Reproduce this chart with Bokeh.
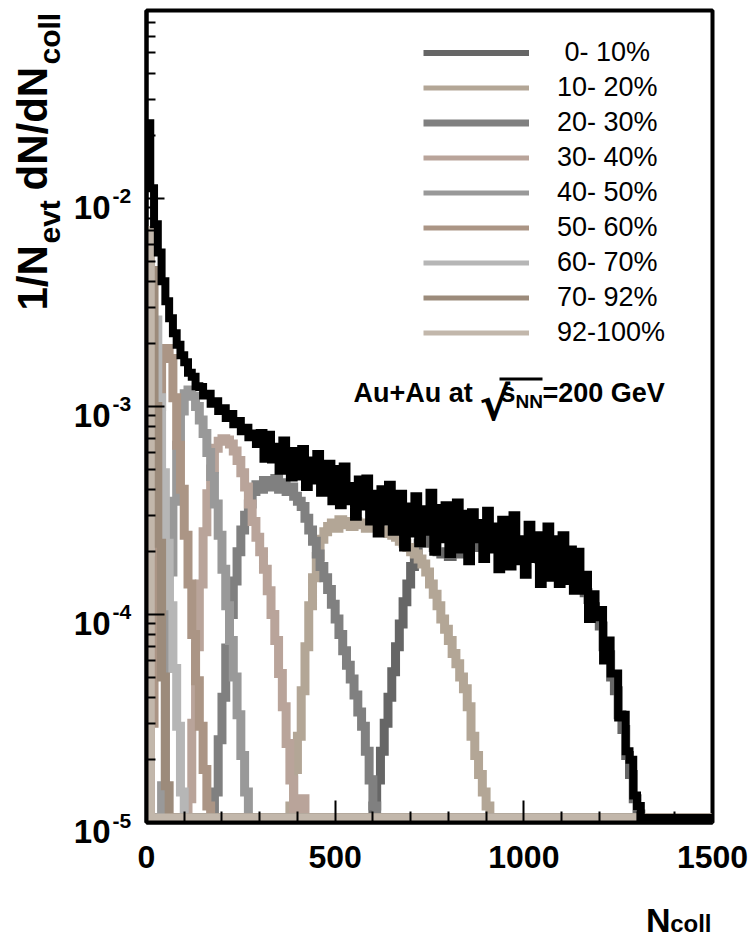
import numpy as np
from bokeh.plotting import figure
from bokeh.layouts import row, column
from bokeh.models import (Range1d, FixedTicker, CustomJSTickFormatter, Label,
                          Legend, LegendItem, BoxAnnotation)
from bokeh.embed import file_html
from bokeh.resources import INLINE

FONT = "Liberation Sans"

# ---------------- data ----------------
bin_width = 10          # N_coll per histogram bin
ncoll_max = 1500
value_unit = 1e-4       # every content below is given in units of 1e-4
floor_value = 1.05e-5   # empty bins are drawn on the lower frame edge

# minimum-bias (all events) distribution, bins starting at N_coll = 0
total_start = 0
total_values = [
    230, 112, 75, 55, 40, 32, 26.5, 22.5, 19.8, 17.6,
    16.3, 14.5, 13.9, 12.5, 12.4, 11.3, 11.5, 10.3, 10.6, 9.5,
    9.8, 8.8, 9.2, 8.2, 8.5, 7.6, 7.9, 7.1, 7.4, 6.6,
    7.45, 5.6, 7.3, 5.55, 6.4, 4.9, 6.85, 5.25, 4.55, 6.1,
    4.6, 6.25, 4.1, 5.5, 4.4, 5.9, 3.85, 4.6, 5.3, 3.5,
    5.0, 3.35, 5.15, 3.5, 4.15, 2.95, 4.45, 3.3, 4.5, 2.8,
    3.8, 2.45, 4.0, 2.8, 4.2, 2.5, 2.85, 3.8, 2.1, 3.3,
    2.45, 3.7, 2.2, 3.2, 2.5, 3.85, 2.0, 3.25, 2.3, 3.35,
    1.95, 2.8, 3.45, 2.05, 3.05, 1.8, 3.1, 2.3, 2.75, 1.85,
    3.15, 2.05, 2.65, 1.65, 2.85, 2.1, 1.7, 3.0, 1.8, 2.3,
    1.55, 2.7, 1.85, 2.4, 1.4, 2.2, 2.65, 1.5, 2.3, 1.4,
    2.4, 1.45, 2.05, 1.3, 2.0, 1.3, 1.55, 0.95, 1.25, 0.97,
    1.05, 0.6, 0.75, 0.52, 0.52, 0.32, 0.33, 0.22, 0.2, 0.135, 0.12, 0.1,
]

centrality_labels = ["\u00a00- 10%", "10- 20%", "20- 30%", "30- 40%", "40- 50%",
                     "50- 60%", "60- 70%", "70- 92%", "92-100%"]
centrality_colors = ["#666666", "#b3a696", "#808080", "#b9a49a", "#999999",
                     "#ab9585", "#b6b6b6", "#9c8b7b", "#c2b7ab"]
legend_line_widths = [6, 5, 7, 5, 5, 5, 5, 5, 5]
centrality_starts = [600, 380, 180, 110, 40, 10, 0, 0, 0]

cent_00_10 = [
    0.12, 0.16, 0.22, 0.30, 0.40, 0.53, 0.70, 0.90, 1.15, 1.40, 1.70, 1.95, 2.20, 2.40,
    2.35, 2.2, 2.1, 2.0, 1.95, 2.0, 1.9, 2.0, 1.95, 2.05, 2.0, 2.1, 2.1, 2.15,
    2.24, 2.2, 2.19, 2.17, 2.15, 2.13, 2.1, 2.07, 2.04, 2.01,
    1.99, 1.96, 1.93, 1.91, 1.89, 1.86, 1.84, 1.81, 1.78, 1.75,
    1.72, 1.69, 1.66, 1.61, 1.56, 1.5, 1.44, 1.36, 1.27, 1.18,
    1.09, 0.99,
    0.88, 0.7, 0.64, 0.5, 0.43, 0.33, 0.28, 0.21, 0.17, 0.13,
    0.11, 0.095,
]
cent_10_20 = [
    0.12, 0.18, 0.26, 0.43, 0.70, 1.1, 1.5, 1.9, 2.3, 2.5,
    2.65, 2.75, 2.6, 2.85, 2.7, 2.8, 2.65, 2.8, 2.7, 2.75,
    2.6, 2.75, 2.6, 2.65, 2.55, 2.55, 2.45, 2.4, 2.35, 2.25,
    2.2, 2.1, 2.0, 1.95, 1.85, 1.75, 1.6, 1.4, 1.25, 1.1,
    0.95, 0.85, 0.75, 0.65, 0.58, 0.50, 0.44, 0.36, 0.26, 0.21,
    0.17, 0.14, 0.12,
]
cent_20_30 = [
    0.14, 0.25, 0.40, 0.69, 1.0, 1.45, 2.0, 2.55, 3.0, 3.4,
    3.9, 4.2, 4.0, 4.4, 4.1, 4.3, 4.5, 4.0, 4.3, 3.9,
    4.1, 3.7, 3.5, 3.3, 2.9, 2.55, 2.25, 1.95, 1.7, 1.5,
    1.32, 1.12, 0.95, 0.80, 0.67, 0.57, 0.49, 0.41, 0.34, 0.29,
    0.22, 0.16, 0.12,
]
cent_30_40 = [
    0.13, 0.30, 0.70, 1.4, 2.5, 3.8, 5.0, 6.3, 6.8, 7.0,
    6.9, 6.6, 6.1, 5.5, 4.8, 4.1, 3.4, 2.8, 2.35, 2.0,
    1.65, 1.3, 1.0, 0.75, 0.52, 0.36, 0.24, 0.16, 0.115, 0,
    0.13,
]
cent_40_50 = [
    0.15, 0.6, 1.6, 3.5, 6.5, 9.5, 11.5, 12.0, 11.2, 10.0,
    8.6, 7.4, 6.0, 4.6, 3.4, 2.4, 1.65, 1.1, 0.75, 0.5,
    0.33, 0.21, 0.14,
]
cent_50_60 = [
    0.3, 2.5, 10, 17, 19, 17, 11, 6.5, 4.0, 2.4,
    1.4, 0.8, 0.48, 0.29, 0.18, 0.12,
]
cent_60_70 = [2, 22, 26, 11, 4.8, 2.2, 1.1, 0.55, 0.29, 0.14]
cent_70_92 = [60, 45, 10, 2.2, 0.5, 0.15]
cent_92_100 = [70]

centrality_values = [cent_00_10, cent_10_20, cent_20_30, cent_30_40, cent_40_50,
                     cent_50_60, cent_60_70, cent_70_92, cent_92_100]

x_major_ticks = [0, 500, 1000, 1500]
x_minor_ticks = [100, 200, 300, 400, 600, 700, 800, 900, 1100, 1200, 1300, 1400]
y_major_ticks = [1e-5, 1e-4, 1e-3, 1e-2]
y_tick_exponents = ["-5", "-4", "-3", "-2"]
y_minor_mantissas = [2, 3, 4, 5, 6, 7, 8, 9]
y_top = 0.08

# ---------------- geometry (page pixels) ----------------
PAGE_W, PAGE_H = 753, 937
FRAME_L, FRAME_R, FRAME_T, FRAME_B = 146, 712, 10, 822
LEFT_W = 137            # width of the left strip holding the y labels
TITLE_H = 40            # height of the strip under the plot holding the x title
BASE_FIX = 11           # Label baseline correction (px)

# ---------------- helpers ----------------
n_bins = ncoll_max // bin_width
edges = np.arange(0, ncoll_max + bin_width, bin_width)


def step_values(start, values):
    content = np.zeros(n_bins)
    i0 = start // bin_width
    content[i0:i0 + len(values)] = np.asarray(values, dtype=float) * value_unit
    content = np.where(content > 0, content, floor_value)
    return np.append(content, content[-1])


def bare(fig):
    fig.xgrid.visible = False
    fig.ygrid.visible = False
    fig.outline_line_color = None
    fig.background_fill_color = "white"
    fig.border_fill_color = "white"


def label(fig, text, x, y, size, align="left", rotated=False, y_units="screen",
          y_off=0, font=FONT):
    if rotated:
        x, angle = x - BASE_FIX, np.pi / 2
    else:
        angle = 0.0
        if y_units == "screen":
            y = y + BASE_FIX
        else:
            y_off = y_off + BASE_FIX
    fig.add_layout(Label(x=x, y=y, x_units="screen", y_units=y_units, text=text,
                         y_offset=y_off, text_font=font, text_font_size=size,
                         text_font_style="bold", text_color="black",
                         text_align=align, text_baseline="alphabetic", angle=angle))


# ---------------- main plot ----------------
main_h = PAGE_H - TITLE_H
p = figure(width=PAGE_W - LEFT_W, height=main_h,
           x_range=Range1d(0, ncoll_max), y_range=Range1d(y_major_ticks[0], y_top),
           y_axis_type="log", output_backend="svg", toolbar_location=None,
           min_border_left=FRAME_L - LEFT_W, min_border_right=PAGE_W - FRAME_R,
           min_border_top=FRAME_T, min_border_bottom=main_h - FRAME_B)
bare(p)
p.outline_line_color = "black"
p.outline_line_width = 4

y_minor_ticks = [m * t for t in y_major_ticks for m in y_minor_mantissas if m * t < y_top]
p.xaxis.ticker = FixedTicker(ticks=x_major_ticks, minor_ticks=x_minor_ticks)
p.yaxis.ticker = FixedTicker(ticks=y_major_ticks, minor_ticks=y_minor_ticks)
for ax in (p.xaxis[0], p.yaxis[0]):
    ax.axis_line_color = "black"
    ax.axis_line_width = 4
    ax.major_tick_out = 0
    ax.minor_tick_out = 0
    ax.major_tick_line_color = "black"
    ax.minor_tick_line_color = "black"
    ax.major_tick_line_width = 2
    ax.minor_tick_line_width = 2
p.xaxis.major_tick_in = 22
p.xaxis.minor_tick_in = 11
p.yaxis.major_tick_in = 18
p.yaxis.minor_tick_in = 9
p.xaxis.major_label_text_font = FONT
p.xaxis.major_label_text_font_style = "bold"
p.xaxis.major_label_text_font_size = "32px"
p.xaxis.major_label_text_color = "black"
p.xaxis.major_label_standoff = 23
p.yaxis.formatter = CustomJSTickFormatter(code="return ''")
p.yaxis.major_label_standoff = 0

for start, vals, col in zip(centrality_starts, centrality_values, centrality_colors):
    p.step(edges, step_values(start, vals), mode="after", line_color=col,
           line_width=9, line_join="miter", line_cap="butt")
p.step(edges, step_values(total_start, total_values), mode="after",
       line_color="black", line_width=8, line_join="miter", line_cap="butt")

# legend: thin swatches (one-point lines draw nothing in the plot itself)
items = []
for lab_text, col, lw in zip(centrality_labels, centrality_colors, legend_line_widths):
    r = p.line(x=[ncoll_max], y=[y_top], line_color=col, line_width=lw)
    items.append(LegendItem(label=lab_text, renderers=[r]))
legend = Legend(items=items, location=(423 - FRAME_L, FRAME_B - 350),
                orientation="vertical", glyph_width=106, glyph_height=35,
                label_height=35, label_standoff=28, spacing=0, padding=0,
                margin=0, border_line_color=None, background_fill_alpha=0,
                label_text_font=FONT, label_text_font_size="27px",
                label_text_color="black")
p.add_layout(legend)


def fx(px):
    return px - FRAME_L


def fy(py):
    return FRAME_B - py


# Au+Au at sqrt(s_NN)=200 GeV
label(p, "Au+Au at", fx(353), fy(403), "27px")
label(p, "\u221a", fx(479), fy(414), "46px", font="DejaVu Sans")
p.add_layout(BoxAnnotation(left=fx(499), right=fx(542), top=fy(377), bottom=fy(380),
                           left_units="screen", right_units="screen",
                           top_units="screen", bottom_units="screen",
                           fill_color="black", fill_alpha=1.0, line_color=None))
label(p, "s", fx(500), fy(403), "27px")
label(p, "NN", fx(515), fy(412), "19px")
label(p, "=200 GeV", fx(542), fy(403), "27px")

# ---------------- left strip: y tick labels and y title ----------------
left_bottom = 10 ** (np.log10(y_major_ticks[0])
                     - (PAGE_H - FRAME_B) * (np.log10(y_top) - np.log10(y_major_ticks[0]))
                     / (FRAME_B - FRAME_T))
L = figure(width=LEFT_W, height=PAGE_H, x_range=Range1d(0, LEFT_W),
           y_range=Range1d(left_bottom, y_top), y_axis_type="log",
           output_backend="svg", toolbar_location=None,
           x_axis_location=None, y_axis_location=None,
           min_border_left=0, min_border_right=0,
           min_border_top=FRAME_T, min_border_bottom=0)
bare(L)
for t, e in zip(y_major_ticks, y_tick_exponents):
    label(L, "10", 110, t, "33px", align="right", y_units="data", y_off=-20)
    label(L, e, 112, t, "21px", align="left", y_units="data", y_off=-9)

label(L, "1/N", 43, PAGE_H - 310, "42px", rotated=True)
label(L, "evt", 60, PAGE_H - 243, "30px", rotated=True)
label(L, "dN/dN", 43, PAGE_H - 190, "42px", rotated=True)
label(L, "coll", 60, PAGE_H - 64, "30px", rotated=True)

# ---------------- bottom strip: x title (its frame is aligned with the plot frame) ----
B = figure(width=PAGE_W - LEFT_W, height=TITLE_H, x_range=Range1d(0, 1),
           y_range=Range1d(0, 1), output_backend="svg", toolbar_location=None,
           x_axis_location=None, y_axis_location=None,
           min_border_left=0, min_border_right=0, min_border_top=0, min_border_bottom=0)
bare(B)
label(B, "N", 670 - FRAME_L, PAGE_H - 930, "34px", align="right")
label(B, "coll", 711 - FRAME_L, PAGE_H - 934, "24px", align="right")

layout = row(L, column(p, B, spacing=0), spacing=0)
open("out.html", "w").write(file_html(layout, INLINE))
